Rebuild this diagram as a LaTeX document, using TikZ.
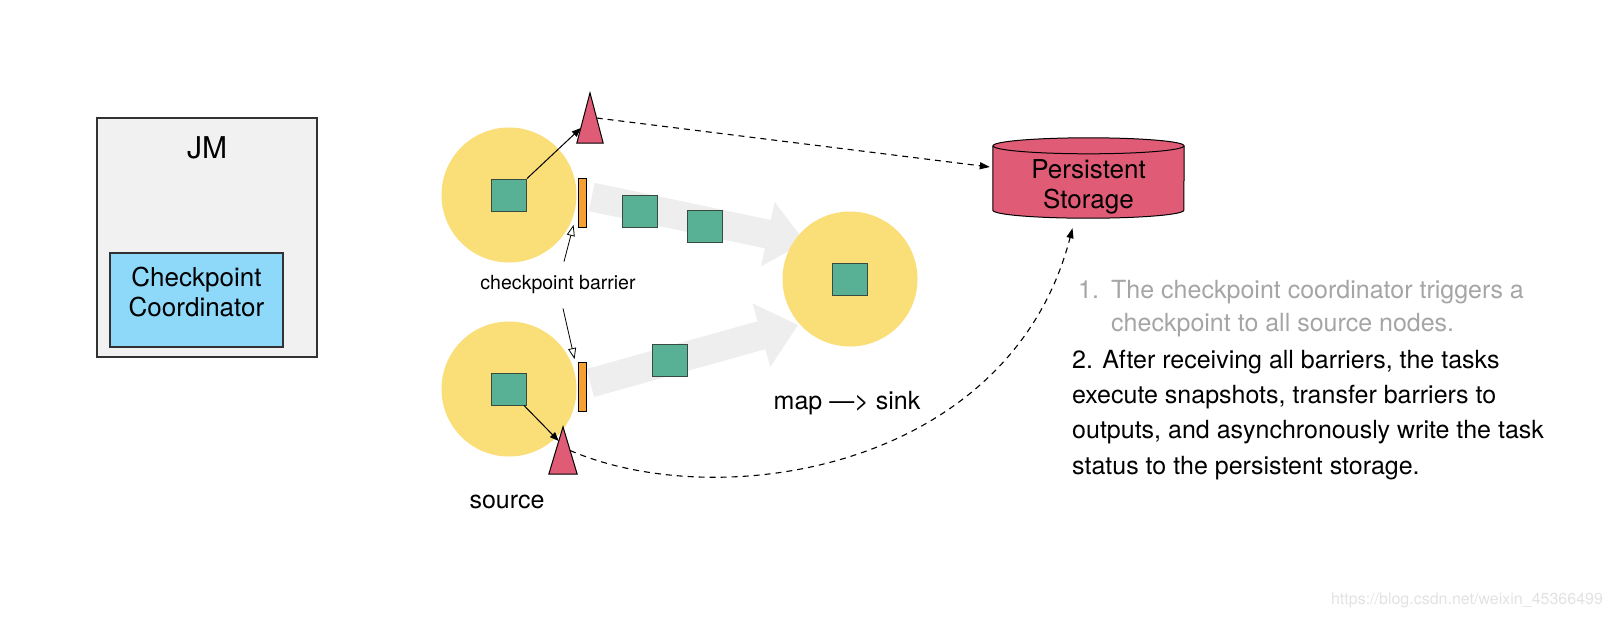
\documentclass[tikz,border=0pt]{standalone}
\usepackage{fontspec}
\setmainfont{TeX Gyre Heros}
\usetikzlibrary{positioning,calc,arrows.meta,backgrounds}

\definecolor{taskyellow}{RGB}{250,222,120}
\definecolor{recgreen}{RGB}{88,177,148}
\definecolor{recedge}{RGB}{55,75,65}
\definecolor{snapred}{RGB}{224,92,118}
\definecolor{barorange}{RGB}{245,160,50}
\definecolor{ccblue}{RGB}{142,216,250}
\definecolor{jmgray}{RGB}{241,241,241}
\definecolor{edgegray}{RGB}{50,50,50}
\definecolor{flowgray}{RGB}{238,238,238}
\definecolor{stepgray}{RGB}{165,165,165}
\definecolor{markgray}{RGB}{226,226,226}

\tikzset{
  task/.style={circle, fill=taskyellow, minimum size=135pt, inner sep=0pt},
  record/.style={draw=recedge, line width=0.8pt, fill=recgreen, minimum width=35pt, minimum height=32pt, inner sep=0pt},
  barrier/.style={draw=black, line width=0.9pt, fill=barorange, minimum width=8pt, minimum height=49pt, inner sep=0pt},
  snapbox/.style={minimum width=26pt, minimum height=50pt, inner sep=0pt},
  snapfill/.style={draw=black, line width=1pt, fill=snapred},
  flow/.style={line width=29pt, draw=flowgray, -{Triangle[length=38pt,width=66pt,line width=0pt]}},
  push/.style={line width=1pt, -{Triangle[length=9pt,width=7pt]}},
  hint/.style={line width=0.8pt, -{Triangle[length=11pt,width=8pt,fill=white]}},
  persist/.style={line width=1.1pt, dash pattern=on 6pt off 5pt, -{Triangle[length=10pt,width=7pt]}},
  big/.style={font=\fontsize{25}{30}\selectfont, inner sep=0pt},
  line/.style={font=\fontsize{25}{28}\selectfont, inner sep=0pt, anchor=base west},
}

\begin{document}
\begin{tikzpicture}[x=1pt,y=-1pt]
\useasboundingbox (0,0) rectangle (1613,619);

% job manager
\node[draw=edgegray, line width=1.2pt, fill=jmgray, minimum width=220pt, minimum height=239pt] (jm) at (207,237.5) {};
\node[font=\fontsize{30}{36}\selectfont, inner sep=0pt, below=19pt of jm.north] (jmname) {JM};
\node[draw=edgegray, line width=1.2pt, fill=ccblue, minimum width=173pt, minimum height=94pt] (cc) at (196.5,300) {};
\node[font=\fontsize{26}{30}\selectfont, inner sep=0pt, align=center] (ccname) at ($(cc.center)+(0,-8)$) {Checkpoint\\Coordinator};

% tasks
\node[task] (src1) at (509,195) {};
\node[task] (src2) at (509,389) {};
\node[task] (mapn) at (850,279) {};

\begin{scope}[on background layer]
  \draw[flow] ([xshift=15pt,yshift=-2pt]src1.east) -- ($(mapn.center)+(-45,-37)$);
  \draw[flow] ([xshift=13.5pt,yshift=6pt]src2.east) -- ($(mapn.center)+(-52,46)$);
\end{scope}

\node[record] (rec1) at (src1) {};
\node[record] (rec2) at (src2) {};
\node[record] (rec3) at (mapn) {};
\node[record] (rec4) at (639.5,211) {};
\node[record] (rec5) at (705,226) {};
\node[record] (rec6) at (669.5,360) {};

\node[barrier] (bar1) at (582,203) {};
\node[barrier] (bar2) at (582,387) {};

% snapshots
\node[snapbox] (snap1) at (590,118) {};
\draw[snapfill] (snap1.north) -- (snap1.south east) -- (snap1.south west) -- cycle;
\node[snapbox, minimum width=28pt, minimum height=47pt] (snap2) at (563,450.5) {};
\draw[snapfill] (snap2.north) -- (snap2.south east) -- (snap2.south west) -- cycle;

\draw[push] (rec1.north east) -- ($(snap1.north)!0.7!(snap1.south west)$);
\draw[push] ([xshift=-3pt]rec2.south east) -- ($(snap2.north)!0.3!(snap2.south west)$);

% storage
\node[minimum width=191pt, minimum height=80pt, inner sep=0pt] (store) at (1088.5,178) {};
\draw[snapfill] ([yshift=-8pt]store.north west) -- ([yshift=8pt]store.south west)
  arc[start angle=180, end angle=360, x radius=95.5pt, y radius=8pt]
  -- ([yshift=-8pt]store.north east);
\draw[snapfill] ([yshift=-8pt]store.north) ellipse[x radius=95.5pt, y radius=8pt];
\node[font=\fontsize{26}{30}\selectfont, inner sep=0pt, align=center] (storename) at ($(store.center)+(0,9)$) {Persistent\\Storage};

\draw[persist] ($(snap1.north)!0.5!(snap1.south east)$) -- ($(store.west)+(-3,-11)$);
\draw[persist] ($(snap2.north)!0.5!(snap2.south east)$) .. controls (720,515) and (1010,470) .. ($(store.south)+(-16,10)$);

% labels
\node[font=\fontsize{19.5}{22}\selectfont, inner xsep=0pt, inner ysep=14pt] (cpb) at (558,285) {checkpoint barrier};
\draw[hint] ([xshift=6pt]cpb.north) -- ([xshift=-4pt,yshift=3pt]bar1.south west);
\draw[hint] ([xshift=5pt]cpb.south) -- ([xshift=-3pt,yshift=3pt]bar2.north west);
\node[big] (srcname) at (507,502) {source};
\node[big] (mapname) at (847,403) {map —> sink};

% steps
\node[line, text=stepgray] (step1) at (1078,298) {\makebox[33pt][l]{1.}The checkpoint coordinator triggers a};
\node[line, text=stepgray] (step1b) at (1111,331) {checkpoint to all source nodes.};
\node[line] (step2) at (1072,368) {2. After receiving all barriers, the tasks};
\node[line] (step2b) at (1072,403) {execute snapshots, transfer barriers to};
\node[line] (step2c) at (1072,438.5) {outputs, and asynchronously write the task};
\node[line] (step2d) at (1072,474) {status to the persistent storage.};

\node[font=\fontsize{16}{18}\selectfont, text=markgray, inner sep=0pt] (mark) at (1467,600) {https://blog.csdn.net/weixin\_45366499};
\end{tikzpicture}
\end{document}
